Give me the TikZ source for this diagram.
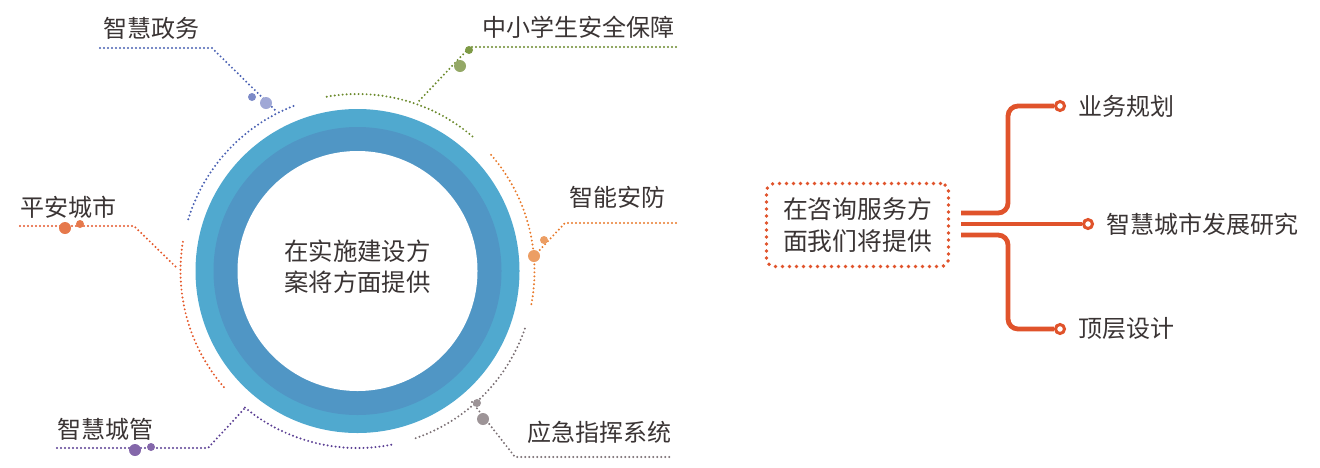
\documentclass[tikz,border=0pt]{standalone}
\usepackage{fontspec}
\newfontfamily\cjk{Noto Sans CJK SC}
\usetikzlibrary{positioning}

\definecolor{ringlight}{HTML}{50A9CF}
\definecolor{ringdark}{HTML}{5096C5}
\definecolor{txtgray}{HTML}{3A3434}
\definecolor{govblue}{HTML}{4A61B3}
\definecolor{govsmall}{HTML}{7D8BC8}
\definecolor{govbig}{HTML}{A0A8D6}
\definecolor{schgreen}{HTML}{6B8A2C}
\definecolor{schsmall}{HTML}{7E9A46}
\definecolor{schbig}{HTML}{94A866}
\definecolor{secorange}{HTML}{E8792A}
\definecolor{secdot}{HTML}{EC9E64}
\definecolor{safered}{HTML}{E4592B}
\definecolor{safedot}{HTML}{E6794C}
\definecolor{mgmtpurple}{HTML}{5A3E93}
\definecolor{mgmtdot}{HTML}{8467AA}
\definecolor{emggray}{HTML}{7B7074}
\definecolor{emgdot}{HTML}{9D9497}
\definecolor{consred}{HTML}{E0532B}

\tikzset{
  itemtext/.style={font=\cjk\fontsize{12}{15}\selectfont, text=txtgray, inner sep=0pt, anchor=west},
  ringtext/.style={font=\cjk\fontsize{12.2}{15.5}\selectfont, text=txtgray, inner sep=0pt, align=center},
  dotline/.style={line width=1.1pt, line cap=round, dash pattern=on 0pt off 2pt},
  consbox/.style={draw=consred, line width=1.9pt, line cap=round, dash pattern=on 0pt off 3.5pt,
    rounded corners=4pt, minimum width=91pt, minimum height=41.5pt, inner sep=0pt, align=center,
    font=\cjk\fontsize{12.4}{16}\selectfont, text=txtgray},
  pipe/.style={draw=consred, line width=2.4pt, rounded corners=5pt},
  knob/.style={circle, draw=consred, line width=1.5pt, fill=white, minimum size=4.5pt, inner sep=0pt},
}

\begin{document}
\begin{tikzpicture}[x=0.5pt,y=-0.5pt]
\useasboundingbox (0,0) rectangle (1320,467);
% Draw the ring
\coordinate (Hub) at (357.5,271);
\fill[ringlight] (Hub) circle[radius=81pt];
\fill[ringdark] (Hub) circle[radius=72pt];
\fill[white] (Hub) circle[radius=60pt];
\node[ringtext] at (357.5,267) (HubText) {在实施建设方\\案将方面提供};
% Dotted arcs round the ring
\draw[dotline,govblue] (Hub) ++(163:88.5pt) arc[start angle=163,end angle=110,radius=88.5pt];
\draw[dotline,schgreen] (Hub) ++(100:88.5pt) arc[start angle=100,end angle=49,radius=88.5pt];
\draw[dotline,secorange] (Hub) ++(41:88.5pt) arc[start angle=41,end angle=-11,radius=88.5pt];
\draw[dotline,emggray] (Hub) ++(-19:88.5pt) arc[start angle=-19,end angle=-72,radius=88.5pt];
\draw[dotline,mgmtpurple] (Hub) ++(-79:88.5pt) arc[start angle=-79,end angle=-130,radius=88.5pt];
\draw[dotline,safered] (Hub) ++(221:88.5pt) arc[start angle=221,end angle=170,radius=88.5pt];
% Give names to the various parts
\node[itemtext] at (103,28) (Gov) {智慧政务};
\node[itemtext] at (482,27) (School) {中小学生安全保障};
\node[itemtext] at (569,197) (Security) {智能安防};
\node[itemtext] at (20,207) (Safe) {平安城市};
\node[itemtext] at (57,429) (Mgmt) {智慧城管};
\node[itemtext] at (527,432) (Emergency) {应急指挥系统};
% Leaders
\coordinate (GovS) at (100,48);
\coordinate (GovB) at (212,48);
\coordinate (GovE) at (275,110);
\draw[dotline,govblue] (GovS) -- (GovB) -- (GovE);
\fill[govsmall] (252,97) circle[radius=2pt];
\fill[govbig] (266,103) circle[radius=3pt];
\coordinate (SchS) at (676,47);
\coordinate (SchB) at (470,47);
\coordinate (SchE) at (418,102);
\draw[dotline,schgreen] (SchS) -- (SchB) -- (SchE);
\fill[schsmall] (469,50) circle[radius=2pt];
\fill[schbig] (460,66) circle[radius=3pt];
\coordinate (SecS) at (676,223);
\coordinate (SecB) at (565,223);
\coordinate (SecE) at (534,256);
\draw[dotline,secorange] (SecS) -- (SecB) -- (SecE);
\fill[secdot] (544,240) circle[radius=2pt];
\fill[secdot] (534,256) circle[radius=3pt];
\coordinate (SafeS) at (20,226);
\coordinate (SafeB) at (134,226);
\coordinate (SafeE) at (178,269);
\draw[dotline,safered] (SafeS) -- (SafeB) -- (SafeE);
\fill[safedot] (65,228) circle[radius=3pt];
\fill[safedot] (80,224) circle[radius=2pt];
\coordinate (MgmtS) at (57,448);
\coordinate (MgmtB) at (208,448);
\coordinate (MgmtE) at (245,408);
\draw[dotline,mgmtpurple] (MgmtS) -- (MgmtB) -- (MgmtE);
\fill[mgmtdot] (135,450) circle[radius=3pt];
\fill[mgmtdot] (151,447) circle[radius=2pt];
\coordinate (EmgS) at (472,402);
\coordinate (EmgB) at (515,457);
\coordinate (EmgE) at (672,457);
\draw[dotline,emggray] (EmgS) -- (EmgB) -- (EmgE);
\fill[emgdot] (477,403) circle[radius=2pt];
\fill[emgdot] (483,419) circle[radius=3pt];
% Consulting part
\node[consbox] at (857.5,225) (Consult) {在咨询服务方\\面我们将提供};
\node[knob] at (1060,106) (K1) {};
\node[knob] at (1088,224) (K2) {};
\node[knob] at (1060,329) (K3) {};
\node[itemtext, right=6pt of K1] (Plan) {业务规划};
\node[itemtext, right=6pt of K2] (Study) {智慧城市发展研究};
\node[itemtext, right=6pt of K3] (Design) {顶层设计};
\coordinate (P1) at (961,213);
\coordinate (P2) at (961,224);
\coordinate (P3) at (961,235);
\coordinate (J1) at (1008,106);
\coordinate (J3) at (1008,329);
\draw[pipe] (P1) -| (J1) -- (K1);
\draw[pipe] (P2) -- (K2);
\draw[pipe] (P3) -| (J3) -- (K3);
\end{tikzpicture}
\end{document}
